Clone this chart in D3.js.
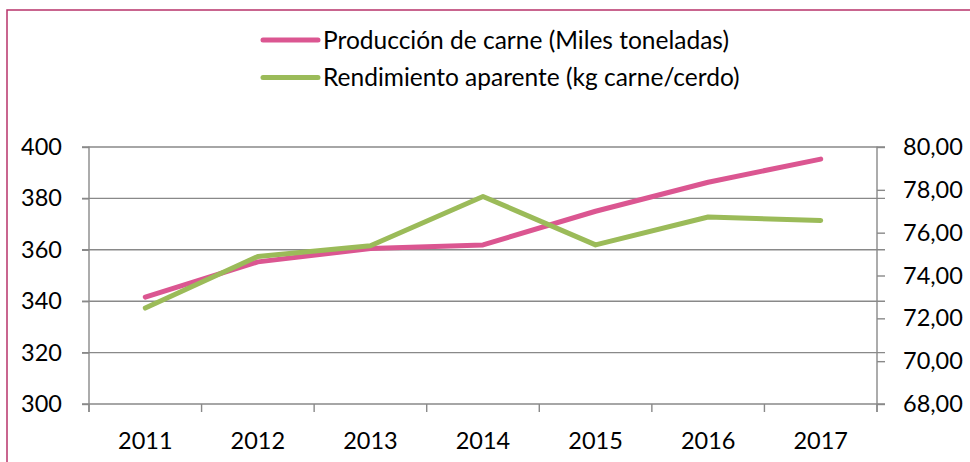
<!DOCTYPE html>
<html>
<head>
<meta charset="utf-8">
<script src="https://cdnjs.cloudflare.com/ajax/libs/d3/7.8.5/d3.min.js"></script>
<style>
  body { margin: 0; background: #fff; }
  svg { display: block; font-family: Lato, "Open Sans", sans-serif; }
</style>
</head>
<body>
<svg width="970" height="462"></svg>
<script>
// data
let years = ['2011', '2012', '2013', '2014', '2015', '2016', '2017'];
let produccion = [341.6, 355.3, 360.5, 361.9, 375.0, 386.3, 395.3];   // miles toneladas
let rendimiento = [72.48, 74.89, 75.39, 77.69, 75.43, 76.73, 76.57]; // kg carne/cerdo
let leftTicks = [300, 320, 340, 360, 380, 400];
let rightTicks = [68, 70, 72, 74, 76, 78, 80];
let seriesNames = ['Producción de carne (Miles toneladas)', 'Rendimiento aparente (kg carne/cerdo)'];

let pink = '#db5691';
let green = '#9bbb59';
let grey = '#898989';

let plotLeft = 89, plotRight = 877, plotTop = 147, plotBottom = 404;

let svg = d3.select('svg');

// outer border
svg.append('rect')
  .attr('x', 7).attr('y', 10)
  .attr('width', 975).attr('height', 470)
  .attr('fill', 'none')
  .attr('stroke', '#b8336b')
  .attr('stroke-width', 1.5);

let xScale = d3.scaleBand()
  .domain(years)
  .range([plotLeft, plotRight]);

let yLeft = d3.scaleLinear()
  .domain([300, 400])
  .range([plotBottom, plotTop]);

let yRight = d3.scaleLinear()
  .domain([68, 80])
  .range([plotBottom, plotTop]);

// gridlines
svg.append('g')
  .selectAll('line')
  .data(leftTicks)
  .enter()
  .append('line')
  .attr('x1', plotLeft - 7).attr('x2', plotRight + 8)
  .attr('y1', d => yLeft(d)).attr('y2', d => yLeft(d))
  .attr('stroke', grey)
  .attr('stroke-width', 1.4);

// left axis
let yAxisL = d3.axisLeft(yLeft).tickValues(leftTicks).tickSize(7).tickPadding(20);
let gL = svg.append('g')
  .attr('transform', 'translate(' + plotLeft + ',0)')
  .call(yAxisL);

// right axis
let yAxisR = d3.axisRight(yRight)
  .tickValues(rightTicks)
  .tickSize(8)
  .tickPadding(18)
  .tickFormat(d => d3.format('.2f')(d).replace('.', ','));
let gR = svg.append('g')
  .attr('transform', 'translate(' + plotRight + ',0)')
  .call(yAxisR);

// bottom axis: ticks between categories
let xAxis = d3.axisBottom(xScale).tickSize(0).tickPadding(28);
let gX = svg.append('g')
  .attr('transform', 'translate(0,' + plotBottom + ')')
  .call(xAxis);

let boundaries = years.map(d => xScale(d)).concat([xScale.range()[1]]);
gX.selectAll('line.sep')
  .data(boundaries)
  .enter()
  .append('line')
  .attr('class', 'sep')
  .attr('x1', d => d).attr('x2', d => d)
  .attr('y1', 0).attr('y2', 8)
  .attr('stroke', grey)
  .attr('stroke-width', 1.4);

[gL, gR, gX].forEach(g => {
  g.select('.domain').attr('stroke', grey).attr('stroke-width', 1.4);
  g.selectAll('.tick line').attr('stroke', grey).attr('stroke-width', 1.4);
  g.selectAll('.tick text')
    .attr('fill', '#000')
    .style('font-size', '23.5px')
    .style('font-family', 'Lato, "Open Sans", sans-serif');
});
gL.select('.domain').attr('d', 'M0,' + (plotTop - 0.5) + 'V' + (plotBottom + 8));
gR.select('.domain').attr('d', 'M0,' + (plotTop - 0.5) + 'V' + (plotBottom + 8));
gX.select('.domain').remove();

// lines
let cx = d => xScale(d) + xScale.bandwidth() / 2;

let linePink = d3.line()
  .x((d, i) => cx(years[i]))
  .y(d => yLeft(d));

let lineGreen = d3.line()
  .x((d, i) => cx(years[i]))
  .y(d => yRight(d));

svg.append('path')
  .datum(produccion)
  .attr('d', linePink)
  .attr('fill', 'none')
  .attr('stroke', pink)
  .attr('stroke-width', 5)
  .attr('stroke-linecap', 'round')
  .attr('stroke-linejoin', 'round');

svg.append('path')
  .datum(rendimiento)
  .attr('d', lineGreen)
  .attr('fill', 'none')
  .attr('stroke', green)
  .attr('stroke-width', 5)
  .attr('stroke-linecap', 'round')
  .attr('stroke-linejoin', 'round');

// legend
let legend = svg.append('g')
  .selectAll('g')
  .data(seriesNames)
  .enter()
  .append('g')
  .attr('transform', (d, i) => 'translate(263,' + (40 + i * 37.5) + ')');

legend.append('line')
  .attr('x1', 0).attr('x2', 55)
  .attr('y1', 0).attr('y2', 0)
  .attr('stroke', (d, i) => i === 0 ? pink : green)
  .attr('stroke-width', 5)
  .attr('stroke-linecap', 'round');

legend.append('text')
  .attr('x', 60)
  .attr('dy', '0.35em')
  .style('font-size', '24.5px')
  .text(d => d);
</script>
</body>
</html>
